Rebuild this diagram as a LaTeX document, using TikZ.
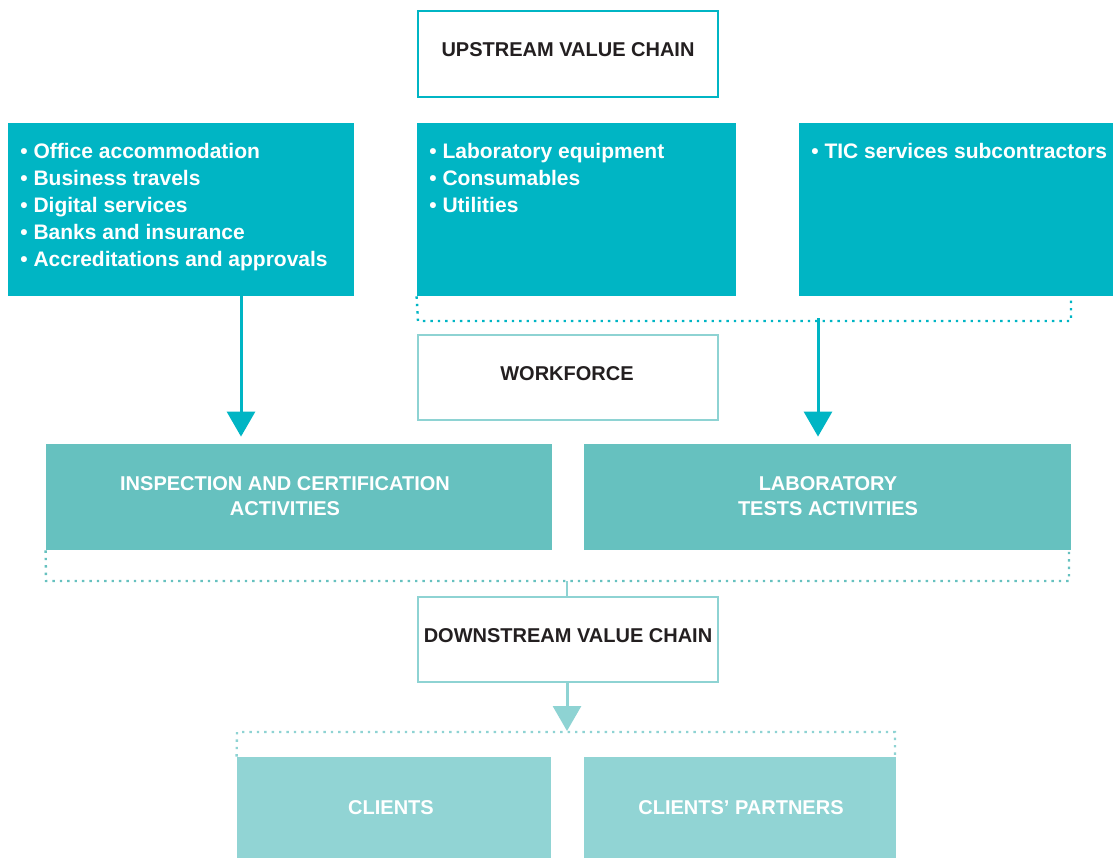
\documentclass[tikz,border=0pt]{standalone}
\usepackage{fontspec}
\setmainfont{Liberation Sans}
\usetikzlibrary{arrows.meta}
\definecolor{tealA}{HTML}{00B5C4}
\definecolor{tealB}{HTML}{66C1BF}
\definecolor{tealC}{HTML}{91D4D4}
\definecolor{tealL}{HTML}{8ED3D3}
\definecolor{txt}{HTML}{231F20}
\tikzset{
  outbox/.style={draw, line width=1pt, fill=white, inner sep=0pt, minimum width=150pt},
  outtext/.style={inner sep=0pt, text=txt, font=\bfseries\fontsize{10pt}{12pt}\selectfont, align=center},
  fillbox/.style={fill=#1, draw=none, inner sep=0pt, text=white, font=\bfseries\fontsize{10pt}{12.5pt}\selectfont, align=center},
  listtext/.style={inner sep=0pt, anchor=north west, text=white, align=left, font=\bfseries\fontsize{10.5pt}{13.5pt}\selectfont},
  dotline/.style={line width=1.2pt, dash pattern=on 1.2pt off 2.5pt},
  arr/.style={line width=1.5pt, -{Triangle[width=14pt,length=12.5pt]}},
}
\begin{document}
\begin{tikzpicture}[x=0.5pt,y=-0.5pt]
\useasboundingbox (0,0) rectangle (1113,858);
% upstream
\node[outbox, draw=tealA, minimum height=43pt] (up) at (568,54) {};
\node[outtext] (upt) at (568,50) {UPSTREAM VALUE CHAIN};
% supplier boxes
\node[fillbox=tealA, minimum width=173pt, minimum height=86.5pt] (left) at (181,209.5) {};
\node[fillbox=tealA, minimum width=159.5pt, minimum height=86.5pt] (mid) at (576.5,209.5) {};
\node[fillbox=tealA, minimum width=157pt, minimum height=86.5pt] (right) at (956,209.5) {};
\node[listtext] (lt) at (20,143) {• Office accommodation\\• Business travels\\• Digital services\\• Banks and insurance\\• Accreditations and approvals};
\node[listtext] (mt) at (429,143) {• Laboratory equipment\\• Consumables\\• Utilities};
\node[listtext] (rt) at (811,143) {• TIC services subcontractors};
% bracket 1
\coordinate (b1l) at (418,321);
\coordinate (b1r) at (1071,321);
\draw[dotline, draw=tealA] (mid.south west) -- (b1l) -- (b1r) -- (b1r |- right.south);
% workforce
\node[outbox, draw=tealL, minimum height=42.5pt] (wf) at (568,377.5) {};
\node[outtext] (wft) at (567,374) {WORKFORCE};
% activities
\node[fillbox=tealB, minimum width=253pt, minimum height=53pt] (insp) at (299,497) {};
\node[fillbox=tealB, minimum width=243.5pt, minimum height=53pt] (lab) at (827.5,497) {};
\node[text=white, font=\bfseries\fontsize{10pt}{12.5pt}\selectfont, align=center, inner sep=0pt] (inspt) at (285,496) {INSPECTION AND CERTIFICATION\\ACTIVITIES};
\node[text=white, font=\bfseries\fontsize{10pt}{12.5pt}\selectfont, align=center, inner sep=0pt] (labt) at (828,496) {LABORATORY\\TESTS ACTIVITIES};
% arrows
\coordinate (ax1) at (241,0);
\coordinate (ax2) at (818,318);
\draw[arr, draw=tealA] (left.south -| ax1) -- ([yshift=3.5pt]insp.north -| ax1);
\draw[arr, draw=tealA] (ax2) -- ([yshift=3.5pt]lab.north -| ax2);
% bracket 2
\coordinate (b2l) at (46,581);
\coordinate (b2r) at (1069,581);
\coordinate (b2m) at (567,581);
\draw[dotline, draw=tealB] (insp.south west) -- (b2l) -- (b2r) -- (b2r |- lab.south);
% downstream
\node[outbox, draw=tealL, minimum height=42.5pt] (down) at (568,639.5) {};
\node[outtext] (downt) at (568,636) {DOWNSTREAM VALUE CHAIN};
\draw[line width=1pt, draw=tealL] (b2m) -- (down.north -| b2m);
% clients
\node[fillbox=tealC, minimum width=157pt, minimum height=50.5pt] (cl) at (394,807.5) {};
\node[fillbox=tealC, minimum width=156pt, minimum height=50.5pt] (cp) at (740,807.5) {};
\node[text=white, font=\bfseries\fontsize{10pt}{12.5pt}\selectfont, inner sep=0pt] (clt) at (391,808) {CLIENTS};
\node[text=white, font=\bfseries\fontsize{10pt}{12.5pt}\selectfont, inner sep=0pt] (cpt) at (741,808) {CLIENTS’ PARTNERS};
\coordinate (b3l) at (237,732);
\coordinate (b3r) at (895,732);
\coordinate (b3m) at (567,731);
\draw[dotline, draw=tealL] (cl.north west) -- (b3l) -- (b3r) -- (b3r |- cp.north);
\draw[arr, draw=tealL] (down.south -| b3m) -- (b3m);
\end{tikzpicture}
\end{document}
